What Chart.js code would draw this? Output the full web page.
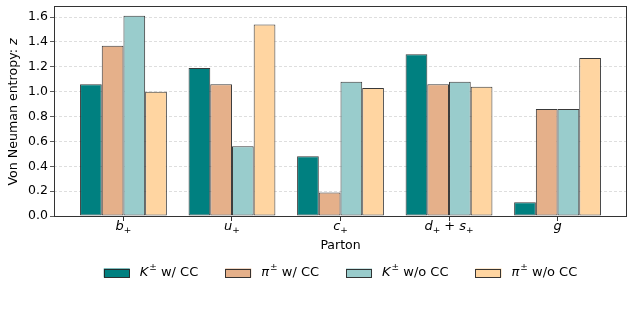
<!DOCTYPE html>
<html>
<head>
<meta charset="utf-8">
<script src="https://cdn.jsdelivr.net/npm/chart.js@4/dist/chart.umd.min.js"></script>
<style>
html,body{margin:0;padding:0;background:#fff;}
#wrap{position:relative;width:634px;height:317px;}
</style>
</head>
<body>
<div id="wrap"><canvas id="c" width="634" height="317"></canvas></div>
<script>
// ---- data ----
const categories = ['b\u208A', 'u\u208A', 'c\u208A', 'd\u208A + s\u208A', 'g'];
const seriesNames = ['K\u00B1 w/ CC', '\u03C0\u00B1 w/ CC', 'K\u00B1 w/o CC', '\u03C0\u00B1 w/o CC'];
const kWithCC   = [1.06, 1.19, 0.48, 1.30, 0.11];
const piWithCC  = [1.37, 1.06, 0.19, 1.06, 0.86];
const kNoCC     = [1.61, 0.56, 1.08, 1.08, 0.86];
const piNoCC    = [1.00, 1.54, 1.03, 1.04, 1.27];
const yTicks    = [0.0, 0.2, 0.4, 0.6, 0.8, 1.0, 1.2, 1.4, 1.6];
const yTitle    = ['Von Neuman entropy: ', 'z'];
const xTitle    = 'Parton';

const colors = ['#008080', '#E5B08A', '#99CCCC', '#FFD5A1'];
const FONT = 'DejaVu Sans';
const series = [kWithCC, piWithCC, kNoCC, piNoCC];

const datasets = series.map((vals, si) => ({
  label: seriesNames[si],
  data: vals.map((v, i) => ({x: i, y: v})),
  backgroundColor: colors[si],
  borderColor: 'rgba(35,35,35,0.9)',
  borderWidth: 1,
  borderSkipped: false,
  categoryPercentage: 0.8,
  barPercentage: 1.0
}));

// split a category label into styled runs
function runsOf(label) {
  const runs = [];
  for (const ch of label) {
    if (ch === '\u208A') runs.push({t: '+', font: '9px "' + FONT + '"', dy: 3});
    else if (ch === ' ' || ch === '+') runs.push({t: ch, font: '13px "' + FONT + '"', dy: 0});
    else runs.push({t: ch, font: 'italic 13px "' + FONT + '"', dy: 0});
  }
  return runs;
}

const overlay = {
  id: 'overlay',
  afterDatasetsDraw(chart) {
    const {ctx, chartArea: a} = chart;
    ctx.save();
    ctx.strokeStyle = '#333';
    ctx.lineWidth = 1;
    ctx.strokeRect(Math.round(a.left) + 0.5, Math.round(a.top) + 0.5,
                   Math.round(a.right - a.left) - 1, Math.round(a.bottom - a.top));
    ctx.restore();
  },
  afterDraw(chart) {
    const {ctx, chartArea: a} = chart;
    const xs = chart.scales.x;

    // x tick labels (math style)
    ctx.save();
    ctx.fillStyle = '#000';
    ctx.textAlign = 'left';
    ctx.textBaseline = 'alphabetic';
    categories.forEach((lab, i) => {
      const runs = runsOf(lab);
      let w = 0;
      runs.forEach(r => { ctx.font = r.font; r.w = ctx.measureText(r.t).width; w += r.w; });
      let x = xs.getPixelForValue(i) - w / 2;
      runs.forEach(r => { ctx.font = r.font; ctx.fillText(r.t, x, 230 + r.dy); x += r.w; });
    });
    ctx.restore();

    // y title
    ctx.save();
    ctx.fillStyle = '#000';
    ctx.translate(14, 112);
    ctx.rotate(-Math.PI / 2);
    const tf = '12.6px "' + FONT + '"', tfi = 'italic 12.6px "' + FONT + '"';
    ctx.font = tf;
    const w1 = ctx.measureText(yTitle[0]).width;
    ctx.font = tfi;
    const w2 = ctx.measureText(yTitle[1]).width;
    ctx.textBaseline = 'middle';
    ctx.textAlign = 'left';
    let sx = -(w1 + w2) / 2;
    ctx.font = tf;
    ctx.fillText(yTitle[0], sx, 0);
    ctx.font = tfi;
    ctx.fillText(yTitle[1], sx + w1, 0);
    ctx.restore();

    // x title
    ctx.save();
    ctx.fillStyle = '#000';
    ctx.font = '12.5px "' + FONT + '"';
    ctx.textAlign = 'center';
    ctx.textBaseline = 'middle';
    ctx.fillText(xTitle, (a.left + a.right) / 2, 246);
    ctx.restore();

    // legend
    ctx.save();
    const boxW = 26, boxH = 9, gap = 10, spacing = 27;
    const items = seriesNames.map(name => {
      const sym = name[0], sup = name[1], rest = name.slice(2);
      ctx.font = 'italic 13px "' + FONT + '"';
      const ws = ctx.measureText(sym).width;
      ctx.font = '9px "' + FONT + '"';
      const wu = ctx.measureText(sup).width;
      ctx.font = '13px "' + FONT + '"';
      const wr = ctx.measureText(rest).width;
      return {sym, sup, rest, ws, wu, wr, w: boxW + gap + ws + wu + 1 + wr};
    });
    const total = items.reduce((s, it) => s + it.w, 0) + spacing * (items.length - 1);
    let x = (a.left + a.right) / 2 - total / 2;
    const cy = 273;
    items.forEach((it, i) => {
      ctx.fillStyle = colors[i];
      ctx.fillRect(x, cy - boxH / 2, boxW, boxH);
      ctx.strokeStyle = 'rgba(35,35,35,0.9)';
      ctx.lineWidth = 1;
      ctx.strokeRect(Math.round(x) + 0.5, Math.round(cy - boxH / 2) + 0.5, boxW - 1, boxH - 1);
      let tx = x + boxW + gap;
      ctx.fillStyle = '#000';
      ctx.textAlign = 'left';
      ctx.textBaseline = 'middle';
      ctx.font = 'italic 13px "' + FONT + '"';
      ctx.fillText(it.sym, tx, cy);
      tx += it.ws + 1;
      ctx.font = '9px "' + FONT + '"';
      ctx.fillText(it.sup, tx, cy - 5);
      tx += it.wu;
      ctx.font = '13px "' + FONT + '"';
      ctx.fillText(it.rest, tx, cy);
      x += it.w + spacing;
    });
    ctx.restore();
  }
};

new Chart(document.getElementById('c'), {
  type: 'bar',
  data: {datasets},
  options: {
    responsive: false,
    animation: false,
    layout: {padding: {top: 6, right: 7, left: 0, bottom: 0}},
    plugins: {legend: {display: false}, tooltip: {enabled: false}},
    scales: {
      x: {
        type: 'linear',
        offset: false,
        min: -0.64,
        max: 4.64,
        afterBuildTicks: s => { s.ticks = categories.map((c, i) => ({value: i})); },
        afterFit: s => { s.height = 101; s.paddingLeft = 0; s.paddingRight = 0; },
        border: {display: false},
        grid: {offset: false, drawOnChartArea: false, drawTicks: true, tickLength: 5, tickColor: '#333', color: '#333'},
        ticks: {display: false, autoSkip: false, maxRotation: 0}
      },
      y: {
        min: 0,
        max: 1.689,
        afterBuildTicks: s => { s.ticks = yTicks.map(v => ({value: v})); },
        afterFit: s => { s.width = 54; s.paddingTop = 0; s.paddingBottom = 0; },
        border: {display: false, dash: [3, 2]},
        grid: {
          drawTicks: true, tickLength: 4, tickColor: '#333',
          tickBorderDash: [],
          color: c => c.tick && c.tick.value === 0 ? 'rgba(0,0,0,0)' : '#d6d6d6',
          lineWidth: 0.8
        },
        ticks: {
          padding: 2, color: '#000',
          font: {family: FONT, size: 12.5},
          callback: v => Number(v).toFixed(1)
        }
      }
    }
  },
  plugins: [overlay]
});
</script>
</body>
</html>
